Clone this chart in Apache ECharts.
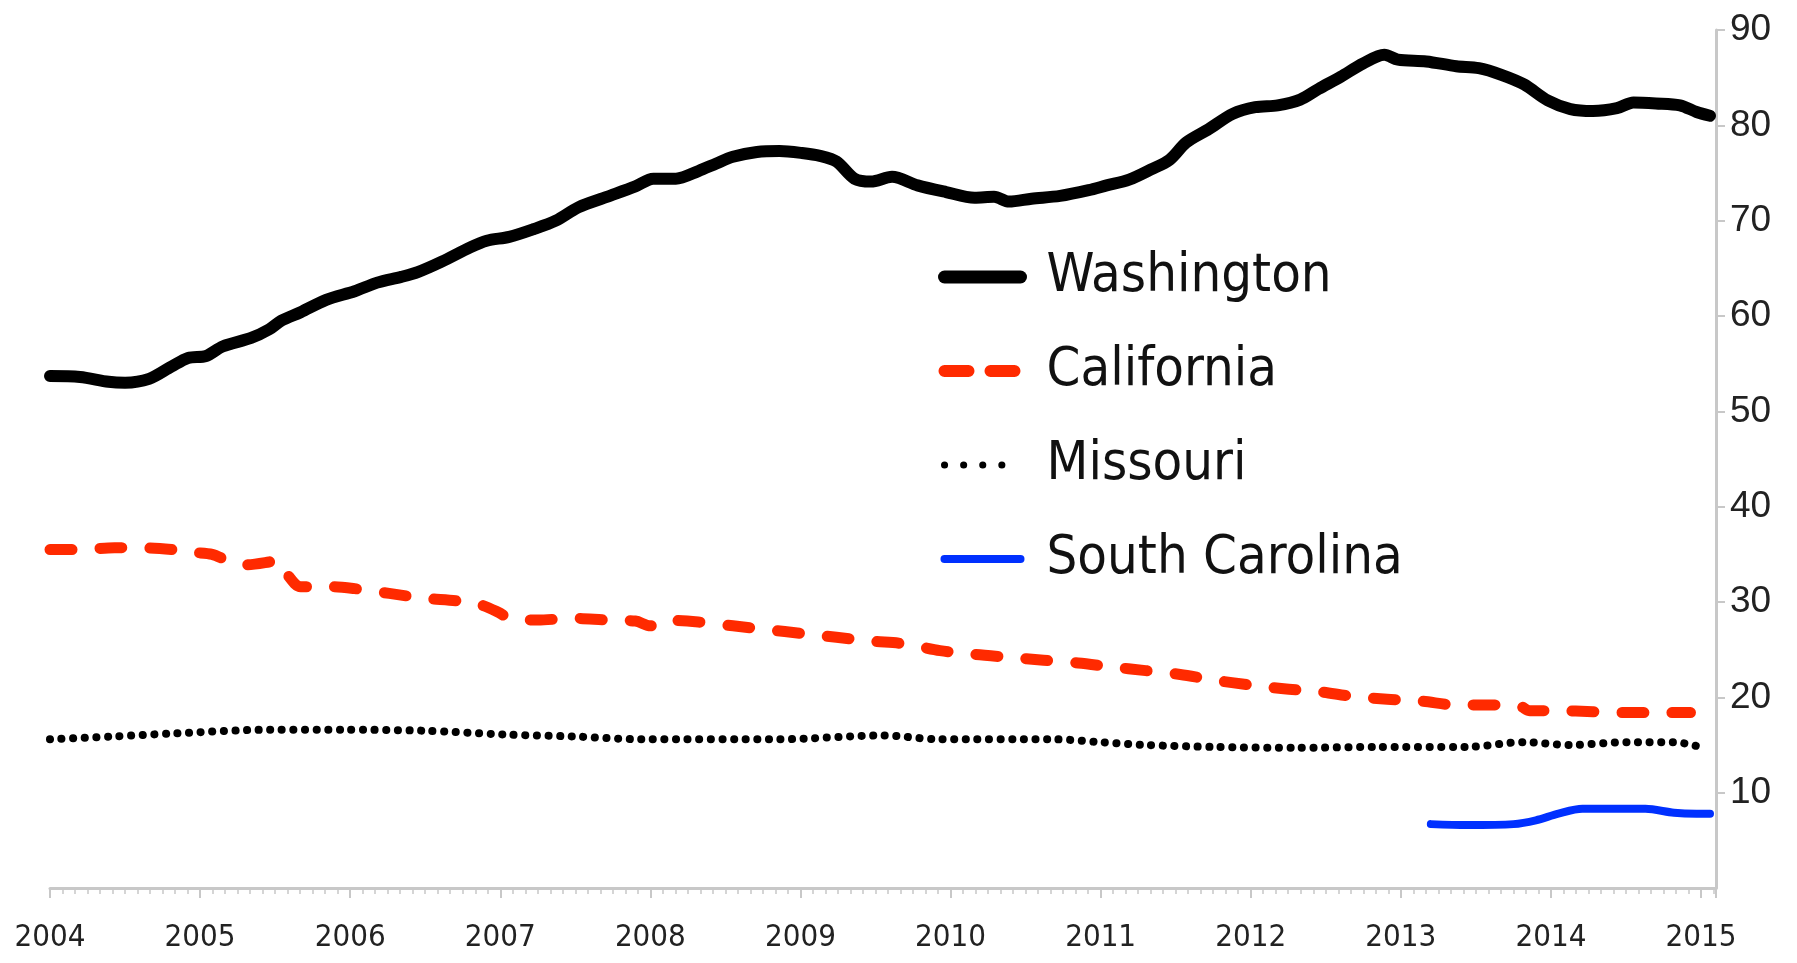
<!DOCTYPE html>
<html>
<head>
<meta charset="utf-8">
<script src="https://cdn.jsdelivr.net/npm/echarts@6/dist/echarts.min.js"></script>
<style>
  html, body { margin: 0; padding: 0; background: #fff; }
  #main { width: 1797px; height: 963px; }
</style>
</head>
<body>
<div id="main"></div>
<script>
// [decimal year, value]
var washington = [
  [2004.00, 53.7], [2004.20, 53.6], [2004.39, 53.1], [2004.50, 53.0], [2004.66, 53.4],
  [2004.81, 54.7], [2004.92, 55.6], [2005.04, 55.8], [2005.15, 56.8], [2005.34, 57.7],
  [2005.46, 58.6], [2005.54, 59.5], [2005.67, 60.4], [2005.84, 61.7], [2006.03, 62.6],
  [2006.18, 63.5], [2006.34, 64.1], [2006.45, 64.6], [2006.61, 65.7], [2006.80, 67.2],
  [2006.91, 67.9], [2007.06, 68.3], [2007.22, 69.1], [2007.37, 70.0], [2007.52, 71.4],
  [2007.71, 72.5], [2007.90, 73.6], [2008.02, 74.4], [2008.17, 74.4], [2008.32, 75.2],
  [2008.44, 76.0], [2008.55, 76.7], [2008.71, 77.2], [2008.86, 77.3], [2009.01, 77.1],
  [2009.13, 76.8], [2009.24, 76.2], [2009.36, 74.4], [2009.47, 74.1], [2009.61, 74.6],
  [2009.78, 73.7], [2009.97, 73.0], [2010.16, 72.4], [2010.29, 72.5], [2010.39, 72.0],
  [2010.54, 72.3], [2010.73, 72.6], [2010.92, 73.2], [2011.04, 73.7], [2011.19, 74.3],
  [2011.34, 75.4], [2011.46, 76.4], [2011.57, 78.2], [2011.72, 79.6], [2011.88, 81.2],
  [2012.03, 81.9], [2012.18, 82.1], [2012.33, 82.7], [2012.45, 83.8], [2012.60, 85.1],
  [2012.75, 86.5], [2012.89, 87.4], [2012.98, 86.9], [2013.17, 86.7], [2013.37, 86.2],
  [2013.52, 86.0], [2013.67, 85.3], [2013.82, 84.3], [2013.98, 82.6], [2014.13, 81.7],
  [2014.28, 81.5], [2014.44, 81.8], [2014.55, 82.4], [2014.70, 82.3], [2014.86, 82.1],
  [2014.97, 81.4], [2015.06, 81.0]
];

var california = [
  [2004.00, 35.5], [2004.20, 35.5], [2004.43, 35.7], [2004.58, 35.7], [2004.81, 35.5],
  [2004.96, 35.2], [2005.08, 35.0], [2005.19, 34.3], [2005.31, 33.9], [2005.46, 34.2],
  [2005.51, 34.4], [2005.57, 33.1], [2005.67, 31.6], [2005.88, 31.6], [2006.03, 31.4],
  [2006.26, 30.9], [2006.49, 30.4], [2006.72, 30.1], [2006.87, 29.7], [2006.99, 28.9],
  [2007.06, 28.3], [2007.25, 28.1], [2007.48, 28.3], [2007.71, 28.1], [2007.90, 28.0],
  [2008.00, 27.5], [2008.09, 28.1], [2008.32, 27.9], [2008.55, 27.5], [2008.78, 27.1],
  [2009.01, 26.7], [2009.24, 26.3], [2009.47, 25.9], [2009.70, 25.6], [2009.93, 24.9],
  [2010.16, 24.5], [2010.39, 24.2], [2010.62, 23.9], [2010.85, 23.6], [2011.07, 23.2],
  [2011.30, 22.8], [2011.53, 22.4], [2011.76, 21.8], [2011.99, 21.3], [2012.22, 20.9],
  [2012.45, 20.6], [2012.68, 20.1], [2012.91, 19.8], [2013.14, 19.6], [2013.37, 19.2],
  [2013.60, 19.2], [2013.79, 19.1], [2013.86, 18.6], [2014.05, 18.6], [2014.28, 18.5],
  [2014.51, 18.4], [2014.74, 18.4], [2014.93, 18.4]
];

var missouri = [
  [2004.00, 15.6], [2004.43, 15.9], [2004.81, 16.2], [2005.46, 16.6], [2005.96, 16.6],
  [2006.49, 16.5], [2007.03, 16.1], [2007.48, 15.9], [2007.94, 15.6], [2008.86, 15.6],
  [2009.55, 16.0], [2009.93, 15.6], [2010.69, 15.6], [2011.00, 15.3], [2011.30, 15.0],
  [2011.76, 14.8], [2012.30, 14.7], [2012.83, 14.8], [2013.44, 14.8], [2013.82, 15.3],
  [2014.13, 15.0], [2014.51, 15.3], [2014.82, 15.3], [2014.97, 14.9]
];

var southCarolina = [
  [2013.20, 6.7], [2013.44, 6.6], [2013.75, 6.7], [2013.90, 7.1], [2014.05, 7.8],
  [2014.21, 8.3], [2014.36, 8.3], [2014.63, 8.3], [2014.82, 7.9], [2014.97, 7.8],
  [2015.06, 7.8]
];

var seriesNames = ['Washington', 'California', 'Missouri', 'South Carolina'];
var yearMin = 2004, yearMax = 2015.1;

var chart = echarts.init(document.getElementById('main'));

var axisGray = '#c8c8c8';
var condensed = "'DejaVu Sans Condensed', 'Liberation Sans', sans-serif";
var noMarker = { color: 'rgba(0,0,0,0)', borderColor: 'rgba(0,0,0,0)', borderWidth: 0 };

var option = {
  animation: false,
  backgroundColor: '#fff',
  grid: { left: 50, right: 81, top: 30, bottom: 75 },
  legend: {
    data: [
      { name: seriesNames[0], itemStyle: noMarker, lineStyle: { width: 13, type: 'solid', cap: 'round' } },
      { name: seriesNames[1], itemStyle: noMarker, lineStyle: { width: 12, type: [24, 22], cap: 'round' } },
      { name: seriesNames[2], itemStyle: noMarker, lineStyle: { width: 7, type: [0.1, 19], cap: 'round' } },
      { name: seriesNames[3], itemStyle: noMarker, lineStyle: { width: 8, type: 'solid', cap: 'round' } }
    ],
    orient: 'vertical',
    left: 938,
    top: 242,
    padding: 0,
    itemWidth: 76,
    itemHeight: 14,
    itemGap: 24,
    textStyle: {
      fontFamily: condensed,
      fontSize: 54,
      color: '#111',
      lineHeight: 70,
      padding: [0, 0, 0, 21]
    }
  },
  xAxis: {
    type: 'value',
    min: yearMin,
    max: yearMax,
    interval: 1,
    splitLine: { show: false },
    axisLine: { show: true, lineStyle: { color: axisGray, width: 3 } },
    axisTick: { show: true, length: 10, lineStyle: { color: axisGray, width: 2 } },
    minorTick: { show: true, splitNumber: 12, length: 6, lineStyle: { color: axisGray, width: 1.5 } },
    axisLabel: {
      margin: 34,
      fontFamily: condensed,
      fontSize: 31,
      color: '#222',
      showMaxLabel: false,
      formatter: function (v) { return Math.round(v) === v ? String(v) : ''; }
    }
  },
  yAxis: {
    type: 'value',
    position: 'right',
    min: 0,
    max: 90,
    interval: 10,
    splitLine: { show: false },
    axisLine: { show: true, lineStyle: { color: axisGray, width: 3 } },
    axisTick: { show: true, length: 9, lineStyle: { color: axisGray, width: 2 } },
    axisLabel: {
      margin: 14,
      fontFamily: "'Liberation Sans', Arial, sans-serif",
      fontSize: 37,
      color: '#222',
      showMinLabel: false
    }
  },
  series: [
    {
      name: 'Washington',
      type: 'line',
      data: washington,
      symbol: 'none',
      smooth: 0.3,
      color: '#000',
      lineStyle: { color: '#000', width: 12, cap: 'round', join: 'round' }
    },
    {
      name: 'California',
      type: 'line',
      data: california,
      symbol: 'none',
      smooth: 0.3,
      color: '#ff2a00',
      lineStyle: { color: '#ff2a00', width: 11, type: [22, 28], cap: 'round', join: 'round' }
    },
    {
      name: 'Missouri',
      type: 'line',
      data: missouri,
      symbol: 'none',
      smooth: 0.3,
      color: '#000',
      lineStyle: { color: '#000', width: 8, type: [0.1, 11.5], cap: 'round' }
    },
    {
      name: 'South Carolina',
      type: 'line',
      data: southCarolina,
      symbol: 'none',
      smooth: 0.3,
      color: '#0030ff',
      lineStyle: { color: '#0030ff', width: 8, cap: 'round', join: 'round' }
    }
  ]
};

chart.setOption(option);
</script>
</body>
</html>
